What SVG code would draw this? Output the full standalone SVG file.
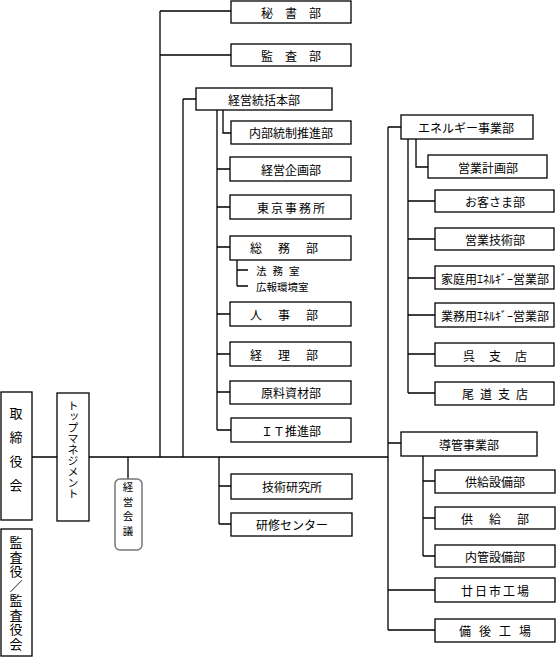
<svg xmlns="http://www.w3.org/2000/svg" width="557" height="657" viewBox="0 0 557 657">
<style>
rect.b{fill:#fff;stroke:#000;stroke-width:1.3}
rect.r{fill:#fff;stroke:#777;stroke-width:1.5}
#connectors path{fill:none;stroke:#000;stroke-width:1.3}
text{font-family:"Noto Sans CJK JP","Noto Sans CJK SC",sans-serif;font-size:12px;fill:#000;text-anchor:middle;dominant-baseline:central}
text.s{font-size:10.5px;text-anchor:start}
text.v{writing-mode:vertical-rl;text-anchor:start;dominant-baseline:central}
</style>
<rect width="557" height="657" fill="#fff"/>
<g id="connectors">
<path d="M32 457H57M89 457H388"/>
<path d="M160 11V457M160 11H231M160 55H231"/>
<path d="M183 99V457M183 99H196"/>
<path d="M217 110V430M217 169H230M217 207H230M217 247H230M217 314H230M217 354H230M217 392H230M217 430H231"/>
<path d="M223 110V133H231"/>
<path d="M237 259V286M237 270H248M237 286H248"/>
<path d="M128 457V479"/>
<path d="M219 457V524M219 486H231M219 524H231"/>
<path d="M388 127V630M388 127H401M388 443H401M388 590H435M388 630H435"/>
<path d="M408 139V393M408 201H435M408 239H435M408 278H435M408 315H435M408 354H435M408 393H435"/>
<path d="M416 139V167H428"/>
<path d="M423 456V556M423 481H435M423 518H435M423 556H435"/>
</g>
<g id="torishimariyakukai"><rect class="b" x="1" y="392" width="31" height="128"/><text class="v" x="16" y="407" style="font-size:13px;letter-spacing:11px">取締役会</text></g>
<g id="kansayaku"><rect class="b" x="1" y="529" width="31" height="127"/><text class="v" x="16" y="536" style="font-size:13px;letter-spacing:1.5px">監査役／監査役会</text></g>
<g id="topmanagement"><rect class="b" x="57" y="393" width="32" height="128"/><text class="v" x="73" y="400" style="font-size:11px">トップマネジメント</text></g>
<g id="keieikaigi"><rect class="r" x="115" y="479" width="27" height="71" rx="5"/><text class="v" x="128" y="482" style="font-size:10.5px;letter-spacing:4px">経営会議</text></g>
<g id="hishobu"><rect class="b" x="231" y="1" width="120" height="22"/><text x="297" y="12" style="letter-spacing:12px">秘書部</text></g>
<g id="kansabu"><rect class="b" x="231" y="44" width="120" height="22"/><text x="297" y="55" style="letter-spacing:12px">監査部</text></g>
<g id="keieitokatsu"><rect class="b" x="196" y="88" width="136" height="22"/><text x="264" y="99">経営統括本部</text></g>
<g id="naibutosei"><rect class="b" x="231" y="121" width="120" height="23"/><text x="291" y="132" fill="#000">内部統制推進部</text></g>
<g id="keieikikaku"><rect class="b" x="230" y="157" width="121" height="24"/><text x="291" y="169">経営企画部</text></g>
<g id="tokyojimusho"><rect class="b" x="230" y="195" width="121" height="24"/><text x="292" y="207" style="letter-spacing:2px">東京事務所</text></g>
<g id="somubu"><rect class="b" x="230" y="236" width="121" height="24"/><text x="292" y="247" style="letter-spacing:16px">総務部</text></g>
<g id="homushitsu"><text class="s" x="256" y="270" style="letter-spacing:6px">法務室</text></g>
<g id="kohokankyo"><text class="s" x="256" y="286">広報環境室</text></g>
<g id="jinjibu"><rect class="b" x="230" y="302" width="121" height="24"/><text x="292" y="314" style="letter-spacing:16px">人事部</text></g>
<g id="keiribu"><rect class="b" x="230" y="342" width="121" height="24"/><text x="292" y="354" style="letter-spacing:16px">経理部</text></g>
<g id="genryoshizai"><rect class="b" x="230" y="381" width="121" height="23"/><text x="291" y="392">原料資材部</text></g>
<g id="itsuishin"><rect class="b" x="231" y="418" width="120" height="24"/><text x="291" y="430">ＩＴ推進部</text></g>
<g id="gijutsukenkyu"><rect class="b" x="231" y="474" width="121" height="25"/><text x="292" y="486">技術研究所</text></g>
<g id="kenshu"><rect class="b" x="231" y="513" width="121" height="23"/><text x="292" y="524">研修センター</text></g>
<g id="energy"><rect class="b" x="401" y="115" width="132" height="24"/><text x="466" y="127">エネルギー事業部</text></g>
<g id="eigyokeikaku"><rect class="b" x="428" y="155" width="119" height="23"/><text x="488" y="167">営業計画部</text></g>
<g id="okyakusama"><rect class="b" x="435" y="190" width="119" height="22"/><text x="495" y="201">お客さま部</text></g>
<g id="eigyogijutsu"><rect class="b" x="435" y="228" width="119" height="22"/><text x="495" y="239">営業技術部</text></g>
<g id="kateiyo"><rect class="b" x="435" y="266" width="119" height="23"/><text x="495" y="278">家庭用ｴﾈﾙｷﾞｰ営業部</text></g>
<g id="gyomuyo"><rect class="b" x="435" y="303" width="119" height="24"/><text x="495" y="315">業務用ｴﾈﾙｷﾞｰ営業部</text></g>
<g id="kureshiten"><rect class="b" x="435" y="343" width="119" height="23"/><text x="502" y="355" style="letter-spacing:14px">呉支店</text></g>
<g id="onomichishiten"><rect class="b" x="435" y="382" width="119" height="23"/><text x="498" y="393" style="letter-spacing:6px">尾道支店</text></g>
<g id="dokan"><rect class="b" x="401" y="432" width="136" height="24"/><text x="469" y="444">導管事業部</text></g>
<g id="kyokyusetsubi"><rect class="b" x="435" y="470" width="120" height="23"/><text x="495" y="481">供給設備部</text></g>
<g id="kyokyubu"><rect class="b" x="435" y="507" width="120" height="22"/><text x="503" y="518" style="letter-spacing:16px">供給部</text></g>
<g id="naikansetsubi"><rect class="b" x="435" y="545" width="120" height="22"/><text x="495" y="556">内管設備部</text></g>
<g id="hatsukaichi"><rect class="b" x="435" y="578" width="120" height="24"/><text x="496" y="590" style="letter-spacing:2px">廿日市工場</text></g>
<g id="bingo"><rect class="b" x="435" y="619" width="120" height="23"/><text x="499" y="630" style="letter-spacing:8px">備後工場</text></g>
</svg>
